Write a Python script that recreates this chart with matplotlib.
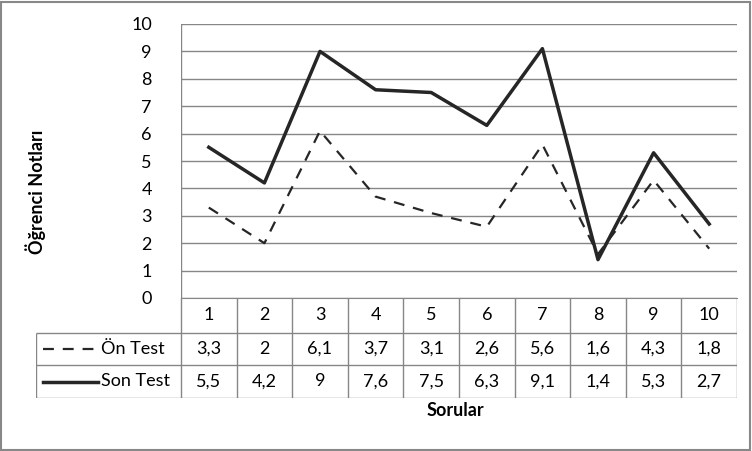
import matplotlib
matplotlib.use('Agg')
from matplotlib import pyplot as plt
import numpy as np

plt.rcParams['font.family'] = ['Lato', 'DejaVu Sans']

# data
sorular = ['1', '2', '3', '4', '5', '6', '7', '8', '9', '10']
on_test = [3.3, 2, 6.1, 3.7, 3.1, 2.6, 5.6, 1.6, 4.3, 1.8]
son_test = [5.5, 4.2, 9, 7.6, 7.5, 6.3, 9.1, 1.4, 5.3, 2.7]
series_names = ['Ön Test', 'Son Test']

W, H = 752, 451
GRID = '#868686'
LINE = '#262626'
FS = 13
DASH = (0, (4.9, 4.0))

fig = plt.figure(figsize=(W / 100, H / 100), dpi=100)

# plot area in pixels
pl, pr, pt, pb = 181, 737, 24, 298
ax = fig.add_axes([pl / W, 1 - pb / H, (pr - pl) / W, (pb - pt) / H])
n = len(sorular)
x = np.arange(n) + 0.5
ax.set_xlim(0, n)
ax.set_ylim(0, 10)
ax.set_yticks(range(0, 11))
ax.set_xticks([])
ax.yaxis.grid(True, color=GRID, lw=1)
ax.set_axisbelow(True)
for s in ['top', 'right', 'left']:
    ax.spines[s].set_visible(False)
ax.spines['bottom'].set_color(GRID)
ax.tick_params(axis='y', length=0, pad=21, labelsize=FS)
ax.plot(x, on_test, color=LINE, lw=1.6, ls=DASH, zorder=3)
ax.plot(x, son_test, color=LINE, lw=2.5, zorder=4)
ax.axvline(0, color=GRID, lw=1)

# data table
tl, tb = 36, 398
cw = (pr - pl) / n
tax = fig.add_axes([tl / W, 1 - tb / H, (pr - tl) / W, (tb - pb) / H])
tax.set_xlim(-(pl - tl) / cw, n)
tax.set_ylim(tb - pb, 0)
tax.axis('off')
rows = [0, 35, 67, 100]
for xi in range(n + 1):
    tax.vlines(xi, 0, rows[-1], color=GRID, lw=1)
tax.vlines(-(pl - tl) / cw, rows[1], rows[-1], color=GRID, lw=1)
for r in rows[1:]:
    tax.hlines(r, -(pl - tl) / cw, n, color=GRID, lw=1)
for i, lab in enumerate(sorular):
    tax.text(x[i], (rows[0] + rows[1]) / 2, lab, ha='center', va='center', fontsize=FS)
for j, vals in enumerate([on_test, son_test]):
    yc = (rows[j + 1] + rows[j + 2]) / 2
    for i, v in enumerate(vals):
        tax.text(x[i], yc, ('%g' % v).replace('.', ','), ha='center', va='center', fontsize=FS)
    x0, x1 = (43 - pl) / cw, (98 - pl) / cw
    if j == 0:
        tax.plot([x0, x1], [yc, yc], color=LINE, lw=1.6, ls=DASH)
    else:
        tax.plot([x0, x1], [yc, yc], color=LINE, lw=2.5)
    tax.text((101 - pl) / cw, yc, series_names[j], ha='left', va='center', fontsize=FS)

fig.text(455 / W, 1 - 410 / H, 'Sorular', ha='center', va='center',
         fontsize=FS, fontweight='bold')
fig.text(36 / W, 1 - 192 / H, 'Öğrenci Notları', ha='center', va='center',
         rotation=90, fontsize=FS, fontweight='bold')

# outer frame
fig.patches.append(plt.Rectangle((1 / W, 1 / H), (W - 3) / W, (H - 3) / H,
                                 transform=fig.transFigure, fill=False,
                                 edgecolor='#888888', lw=1.5))

fig.savefig('out.png', dpi=100)
